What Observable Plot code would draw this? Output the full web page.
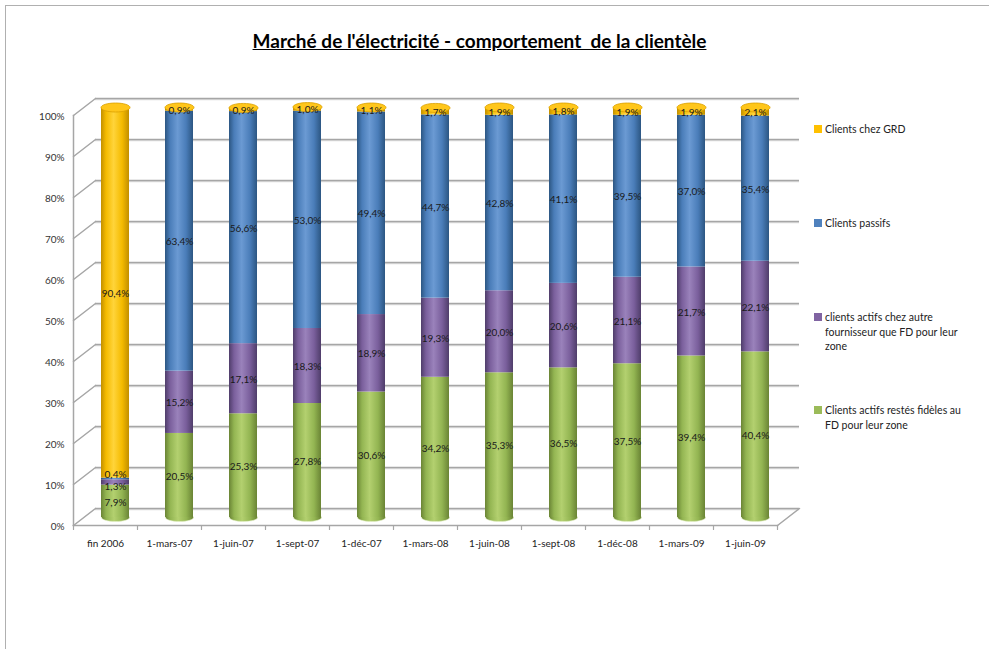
<!DOCTYPE html>
<html>
<head>
<meta charset="utf-8">
<script src="https://cdn.jsdelivr.net/npm/d3@7"></script>
<script src="https://cdn.jsdelivr.net/npm/@observablehq/plot@0.6"></script>
<style>
  body { margin: 0; background: #fff; font-family: Lato, "Liberation Sans", sans-serif; }
  #wrap { position: relative; width: 989px; height: 649px; overflow: hidden; }
  #border { position: absolute; left: 5px; top: 5px; width: 990px; height: 660px; border-left: 1px solid #b0b0b0; border-top: 1px solid #b0b0b0; }
  #chart { position: absolute; left: 0; top: 0; }
  #title { position: absolute; left: 0; top: 29px; width: 959px; text-align: center; font-weight: bold; font-size: 19px; color: #000; white-space: pre; }
  #title span { text-decoration: underline; }
  .leg { position: absolute; left: 814px; font-size: 10.5px; color: #222; line-height: 14.5px; }
  .leg i { position: absolute; left: 0; top: 3px; width: 8px; height: 8px; }
  .leg div { margin-left: 11px; white-space: nowrap; }
</style>
</head>
<body>
<div id="wrap">
  <div id="border"></div>
  <div id="chart"></div>
  <div id="title"><span>Marché de l'électricité - comportement  de la clientèle</span></div>
  <div id="legend"></div>
</div>
<script>
// ---- data ----
const dates = ["fin 2006", "1-mars-07", "1-juin-07", "1-sept-07", "1-déc-07", "1-mars-08", "1-juin-08", "1-sept-08", "1-déc-08", "1-mars-09", "1-juin-09"];
const seriesNames = [
  "Clients actifs restés fidèles au FD pour leur zone",
  "clients actifs chez autre fournisseur que FD pour leur zone",
  "Clients passifs",
  "Clients chez GRD"
];
const fideles = [7.9, 20.5, 25.3, 27.8, 30.6, 34.2, 35.3, 36.5, 37.5, 39.4, 40.4];
const autreFournisseur = [1.3, 15.2, 17.1, 18.3, 18.9, 19.3, 20.0, 20.6, 21.1, 21.7, 22.1];
const passifs = [0.4, 63.4, 56.6, 53.0, 49.4, 44.7, 42.8, 41.1, 39.5, 37.0, 35.4];
const grd = [90.4, 0.9, 0.9, 1.0, 1.1, 1.7, 1.9, 1.8, 1.9, 1.9, 2.1];
const yTicks = [0, 10, 20, 30, 40, 50, 60, 70, 80, 90, 100];
const colors = ["#9BBB59", "#8064A2", "#4F81BD", "#FFC000"];

// gradient stops per series: [edge, mid, light]
const shades = [
  ["#6a8435", "#93b552", "#b3d06f"],
  ["#4f3d6a", "#7a5f9c", "#9a82bb"],
  ["#2c5682", "#4a7db9", "#6b9ad3"],
  ["#c28f00", "#f5bb00", "#ffd43a"]
];

const values = [fideles, autreFournisseur, passifs, grd];
const data = [];
dates.forEach((d, i) => values.forEach((arr, k) => data.push({date: d, i, series: seriesNames[k], k, value: arr[i]})));
const totals = new Map(dates.map((d, i) => [d, d3.sum(values, arr => arr[i])]));

const fmt = v => v.toFixed(1).replace(".", ",") + "%";

// ---- 3D offsets (pixels) ----
const depthDx = 22, depthDy = -17;   // back wall
const barDx = 10, barDy = -8;       // cylinders mid-depth
const grid = "#a6a6a6";

const lineShape = {draw(context, l) { context.moveTo(0, 0); context.lineTo(0, -l); }};
const makeEllipse = (rx, ry) => ({draw(ctx) {
  const c = 0.5523;
  ctx.moveTo(rx, 0);
  ctx.bezierCurveTo(rx, ry * c, rx * c, ry, 0, ry);
  ctx.bezierCurveTo(-rx * c, ry, -rx, ry * c, -rx, 0);
  ctx.bezierCurveTo(-rx, -ry * c, -rx * c, -ry, 0, -ry);
  ctx.bezierCurveTo(rx * c, -ry, rx, -ry * c, rx, 0);
  ctx.closePath();
}});

const defs = () => {
  const svgDefs = d3.create("svg:defs");
  shades.forEach((s, k) => {
    const g = svgDefs.append("linearGradient").attr("id", "cyl" + k).attr("x1", 0).attr("x2", 1).attr("y1", 0).attr("y2", 0);
    [[0, s[0]], [0.18, s[1]], [0.45, s[2]], [0.75, s[1]], [1, s[0]]].forEach(([o, c]) =>
      g.append("stop").attr("offset", o).attr("stop-color", c));
  });
  return svgDefs.node();
};

const diagLen = Math.hypot(depthDx, depthDy);
const diagRot = Math.atan2(depthDx, -depthDy) * 180 / Math.PI;

// the two tiny segments of the first bar get their labels nudged apart
const isTiny = d => d.i === 0 && (d.k === 1 || d.k === 2);
const labelOpts = {x: "date", y: "value", z: "k", text: d => fmt(d.value), dx: barDx, fill: "#1a1a1a", fontSize: 10};

const plot = Plot.plot({
  width: 989,
  height: 649,
  marginLeft: 73,
  marginRight: 212,
  marginTop: 115,
  marginBottom: 124,
  x: {domain: dates, paddingInner: 0.5625, paddingOuter: 0.28125, axis: null},
  y: {domain: [0, 100], axis: null},
  color: {type: "identity"},
  style: {fontFamily: "Lato, 'Liberation Sans', sans-serif", fontSize: "10px", color: "#333", background: "transparent"},
  marks: [
    defs,
    // back wall gridlines
    Plot.ruleY(yTicks, {dx: depthDx, dy: depthDy + 1, stroke: "#dcdcdc", strokeWidth: 1.5}),
    Plot.ruleY(yTicks, {dx: depthDx, dy: depthDy, stroke: grid, strokeWidth: 1.5}),
    // side wall diagonals
    Plot.vector(yTicks, {y: d => d, frameAnchor: "left", anchor: "start", length: diagLen, rotate: diagRot, shape: lineShape, stroke: grid, strokeWidth: 1.5}),
    // floor right diagonal
    Plot.vector([0], {frameAnchor: "bottom-right", anchor: "start", length: diagLen, rotate: diagRot, shape: lineShape, stroke: grid, strokeWidth: 1.5}),
    // front axis line and floor edge
    Plot.frame({anchor: "left", stroke: grid, strokeWidth: 1.5}),
    Plot.frame({anchor: "bottom", stroke: grid, strokeWidth: 1.5}),
    // category boundary ticks
    Plot.vector(dates, {x: d => d, frameAnchor: "bottom", dx: -32, anchor: "start", length: 4, rotate: 180, shape: lineShape, stroke: grid, strokeWidth: 1.2}),
    Plot.vector([dates[dates.length - 1]], {x: d => d, frameAnchor: "bottom", dx: 32, anchor: "start", length: 4, rotate: 180, shape: lineShape, stroke: grid, strokeWidth: 1.2}),
    // bottom caps of cylinders
    Plot.dot(dates, {x: d => d, y: () => 0, symbol: makeEllipse(14, 4), fill: "url(#cyl0)", stroke: "#e4f0c8", strokeWidth: 0.6, dx: barDx, dy: barDy}),
    // stacked cylinders
    Plot.barY(data, {x: "date", y: "value", z: "k", fill: d => `url(#cyl${d.k})`, dx: barDx, dy: barDy}),
    // top caps
    Plot.dot(dates, {x: d => d, y: d => totals.get(d), symbol: makeEllipse(14.5, 4.5), fill: "#ffc61a", stroke: "#d9a000", strokeWidth: 0.8, dx: barDx, dy: barDy}),
    // value labels
    Plot.text(data, {...Plot.stackY({...labelOpts, dy: barDy + 1}), filter: d => !isTiny(d)}),
    Plot.text(data, {...Plot.stackY({...labelOpts, dy: barDy + 4}), filter: d => isTiny(d) && d.k === 1}),
    Plot.text(data, {...Plot.stackY({...labelOpts, dy: barDy - 4}), filter: d => isTiny(d) && d.k === 2}),
    // axes
    Plot.axisY(yTicks, {tickSize: 0, tickPadding: 9, tickFormat: d => d + "%", label: null, dy: 1, fontSize: 10, fill: "#333"}),
    Plot.axisX(dates, {tickSize: 0, tickPadding: 14, label: null, fontSize: 10, fill: "#222"})
  ]
});
document.getElementById("chart").appendChild(plot);

// legend (top to bottom as in the reference)
const legendItems = [
  {k: 3, top: 122, lines: ["Clients chez GRD"]},
  {k: 2, top: 216, lines: ["Clients passifs"]},
  {k: 1, top: 310, lines: ["clients actifs chez autre", "fournisseur que FD pour leur", "zone"]},
  {k: 0, top: 403, lines: ["Clients actifs restés fidèles au", "FD pour leur zone"]}
];
const leg = document.getElementById("legend");
legendItems.forEach(it => {
  const el = document.createElement("div");
  el.className = "leg";
  el.style.top = it.top + "px";
  el.innerHTML = `<i style="background:${colors[it.k]}"></i>` + it.lines.map(l => `<div>${l}</div>`).join("");
  leg.appendChild(el);
});
</script>
</body>
</html>
